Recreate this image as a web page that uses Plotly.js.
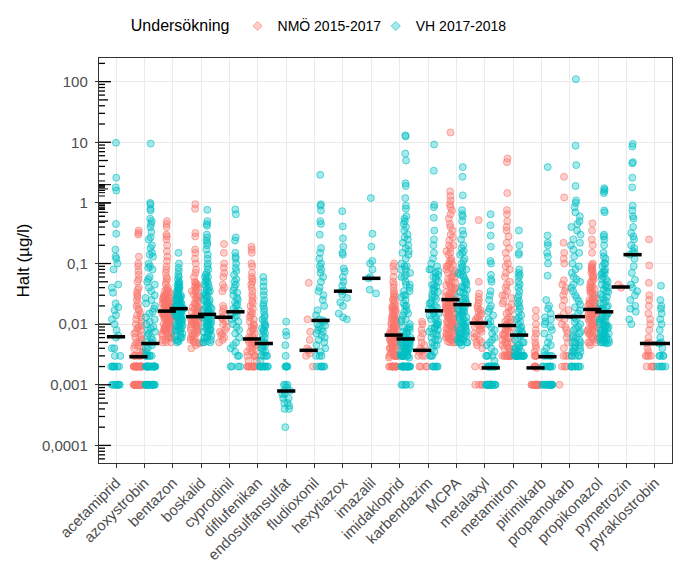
<!DOCTYPE html>
<html><head><meta charset="utf-8">
<script src="https://cdn.plot.ly/plotly-3.0.1.min.js"></script>
<style>html,body{margin:0;padding:0;background:#fff}#chart{width:682px;height:573px}</style>
</head><body><div id="chart"></div>
<script>
const categories = ['acetamiprid','azoxystrobin','bentazon','boskalid','cyprodinil','diflufenikan','endosulfansulfat','fludioxonil','hexytiazox','imazalil','imidakloprid','karbendazim','MCPA','metalaxyl','metamitron','pirimikarb','propamokarb','propikonazol','pymetrozin','pyraklostrobin'];
const groupNames = ['NMÖ 2015-2017','VH 2017-2018'];

// medians (null = no data)
const medianNMO = [null,0.0029,0.0164,0.0133,0.013,0.0057,null,0.0037,null,null,0.0066,0.0037,0.0254,0.0104,0.0095,0.0019,0.0133,0.0175,0.041,0.0048];
const medianVH  = [0.0062,0.0048,0.018,0.0145,0.016,0.0048,0.00079,0.0115,0.035,0.057,0.0057,0.0166,0.021,0.0019,0.0066,0.0029,0.0133,0.016,0.14,0.0048];

// NMÖ 2015-2017 values (µg/l)
const nmoAcetamiprid = [];
const nmoAzoxystrobin = [0.35,0.32,0.3,0.13,0.1,0.09,0.075,0.065,0.055,0.05,0.04,0.037,0.033,0.03,0.028,0.025,0.022,0.02,0.018,0.017,0.015,0.014,0.013,0.012,0.011,0.01,0.0095,0.009,0.0085,0.008,0.0075,0.007,0.0065,0.006,0.006,0.0055,0.005,0.005,0.0045,0.0045,0.004,0.004,0.0035,0.0035,0.003,0.003,0.003,0.003,0.003,0.003,0.002,0.002,0.002,0.002,0.002,0.002,0.002,0.002,0.002,0.002,0.002,0.002,0.002,0.002,0.002,0.002,0.002,0.002,0.002,0.002,0.002,0.002,0.001,0.001,0.001,0.001,0.001,0.001,0.001,0.001,0.001,0.001,0.001,0.001,0.001,0.001,0.001,0.001,0.001,0.001,0.001,0.001,0.001,0.001,0.001,0.001,0.001];
const nmoBentazon = [0.5,0.45,0.4,0.3,0.28,0.25,0.2,0.16,0.13,0.11,0.09,0.08,0.07,0.06,0.055,0.05,0.045,0.04,0.038,0.036,0.034,0.032,0.03,0.029,0.028,0.027,0.026,0.025,0.024,0.023,0.022,0.021,0.02,0.02,0.019,0.019,0.018,0.018,0.017,0.017,0.016,0.016,0.015,0.015,0.014,0.014,0.013,0.013,0.012,0.012,0.011,0.011,0.01,0.01,0.0095,0.009,0.009,0.0085,0.008,0.008,0.0075,0.007,0.007,0.0065,0.006,0.006,0.0055,0.005,0.005,0.005,0.025,0.022,0.019,0.017,0.015,0.013,0.011,0.0095,0.0085,0.035,0.031,0.027,0.024,0.021,0.019,0.018,0.017,0.016,0.015,0.014,0.013,0.012,0.011,0.01,0.009,0.008,0.007,0.006,0.0055,0.03,0.026,0.022,0.02,0.0165,0.016,0.0125,0.0105,0.0085,0.0065];
const nmoBoskalid = [0.95,0.8,0.32,0.28,0.17,0.15,0.12,0.1,0.08,0.07,0.06,0.05,0.048,0.045,0.042,0.04,0.037,0.034,0.031,0.028,0.026,0.024,0.022,0.02,0.019,0.018,0.017,0.016,0.015,0.014,0.013,0.013,0.012,0.012,0.011,0.011,0.01,0.01,0.0095,0.009,0.0085,0.008,0.0075,0.007,0.0065,0.006,0.0055,0.005,0.005,0.0045,0.004,0.045,0.035,0.03,0.025,0.021,0.018,0.016,0.014,0.0125,0.0115,0.0105,0.009,0.008,0.007,0.006,0.0052,0.04,0.028,0.019,0.013,0.01,0.0075,0.0055,0.0048];
const nmoCyprodinil = [0.21,0.15,0.1,0.085,0.07,0.06,0.045,0.04,0.035,0.02,0.018,0.016,0.014,0.013,0.012,0.011,0.01,0.009,0.008,0.0075,0.007,0.0065,0.006,0.0055,0.005];
const nmoDiflufenikan = [0.19,0.17,0.15,0.1,0.09,0.07,0.06,0.055,0.05,0.045,0.04,0.035,0.03,0.027,0.024,0.022,0.02,0.018,0.016,0.015,0.014,0.013,0.012,0.011,0.01,0.0095,0.009,0.0085,0.008,0.0075,0.007,0.0065,0.006,0.006,0.0055,0.0055,0.005,0.005,0.005,0.0045,0.0045,0.004,0.004,0.004,0.0035,0.0035,0.003,0.003,0.003,0.003,0.0025,0.0025,0.002,0.002,0.002,0.002,0.002,0.002,0.002,0.002,0.002,0.002];
const nmoEndosulfansulfat = [];
const nmoFludioxonil = [0.048,0.012,0.0075,0.0055,0.004,0.0037,0.0033,0.003,0.002];
const nmoHexytiazox = [];
const nmoImazalil = [];
const nmoImidakloprid = [0.1,0.09,0.075,0.06,0.05,0.045,0.04,0.035,0.032,0.03,0.028,0.026,0.024,0.022,0.02,0.019,0.018,0.017,0.016,0.015,0.014,0.013,0.012,0.012,0.011,0.011,0.01,0.01,0.0095,0.009,0.009,0.0085,0.008,0.008,0.0075,0.0075,0.007,0.007,0.0065,0.0065,0.006,0.006,0.0055,0.0055,0.005,0.005,0.005,0.0045,0.0045,0.004,0.004,0.004,0.0035,0.0035,0.003,0.003,0.003,0.003,0.003,0.003,0.002,0.002,0.002,0.002,0.002,0.002,0.002,0.002,0.002,0.002,0.002,0.002,0.002,0.002,0.025,0.02,0.017,0.014,0.012,0.0105,0.0092,0.0082,0.0072,0.0068,0.0064,0.0058,0.0052,0.0047,0.0042,0.0038,0.0033,0.003,0.003,0.0028,0.018,0.013,0.0088,0.007,0.0062,0.0048,0.0036,0.003];
const nmoKarbendazim = [0.011,0.01,0.008,0.007,0.006,0.005,0.0045,0.004,0.0037,0.0035,0.003,0.003,0.003,0.002,0.002,0.002,0.002];
const nmoMCPA = [14.5,1.55,1.3,1.1,0.95,0.85,0.75,0.65,0.55,0.45,0.4,0.35,0.3,0.27,0.24,0.2,0.18,0.16,0.14,0.12,0.11,0.1,0.095,0.09,0.085,0.08,0.075,0.07,0.065,0.06,0.055,0.05,0.048,0.045,0.042,0.04,0.038,0.036,0.034,0.032,0.03,0.029,0.028,0.027,0.026,0.025,0.024,0.023,0.022,0.021,0.02,0.02,0.019,0.018,0.017,0.016,0.015,0.014,0.013,0.012,0.012,0.011,0.011,0.01,0.01,0.0095,0.009,0.0085,0.008,0.0075,0.007,0.0065,0.006,0.006,0.0055,0.005,0.005,0.019,0.018,0.017,0.016,0.015,0.014,0.013,0.012,0.011,0.01,0.009,0.008,0.007,0.006,0.0055,0.005,0.2,0.15,0.11,0.09,0.07,0.06,0.05,0.044,0.038,0.033,0.029,0.026,0.024,0.021,0.018,0.015,0.013,0.011,0.0095,0.0085,0.0075,0.0065,0.0058,0.0052];
const nmoMetalaxyl = [0.52,0.05,0.032,0.028,0.025,0.022,0.02,0.018,0.017,0.016,0.015,0.014,0.013,0.012,0.012,0.011,0.011,0.01,0.01,0.0095,0.009,0.0085,0.008,0.0075,0.007,0.0065,0.006,0.0055,0.005,0.005,0.0045,0.004,0.002,0.002,0.001,0.001,0.001,0.001];
const nmoMetamitron = [5.4,4.7,1.45,0.76,0.65,0.5,0.4,0.35,0.28,0.22,0.18,0.15,0.12,0.1,0.09,0.08,0.07,0.06,0.05,0.045,0.04,0.035,0.03,0.027,0.024,0.021,0.019,0.017,0.015,0.013,0.012,0.011,0.01,0.0095,0.009,0.0085,0.008,0.0075,0.007,0.0065,0.006,0.006,0.0055,0.005,0.005,0.0045,0.0045,0.004,0.004,0.004,0.0035,0.0035,0.003,0.003,0.003,0.003,0.003,0.003,0.003,0.003,0.003,0.003,0.003,0.003,0.003,0.03,0.022,0.016,0.012,0.0105,0.0088,0.0078,0.0068,0.0058,0.0048];
const nmoPirimikarb = [0.017,0.013,0.01,0.008,0.007,0.006,0.005,0.0045,0.004,0.0035,0.003,0.003,0.003,0.003,0.002,0.002,0.002,0.002,0.0019,0.001,0.001,0.001,0.001,0.001,0.001,0.001,0.001,0.001,0.001,0.001,0.001,0.001,0.001,0.001,0.001,0.001];
const nmoPropamokarb = [2.7,1.23,0.22,0.15,0.12,0.1,0.053,0.045,0.04,0.035,0.03,0.025,0.02,0.017,0.015,0.013,0.012,0.01,0.009,0.008,0.007,0.006,0.005,0.004,0.003,0.003,0.003,0.002,0.002,0.002,0.001];
const nmoPropikonazol = [0.46,0.35,0.25,0.2,0.15,0.1,0.095,0.09,0.085,0.08,0.075,0.07,0.065,0.06,0.055,0.05,0.045,0.042,0.04,0.038,0.036,0.034,0.032,0.03,0.028,0.026,0.025,0.024,0.023,0.022,0.021,0.02,0.019,0.018,0.018,0.017,0.017,0.016,0.016,0.015,0.015,0.014,0.014,0.013,0.013,0.012,0.012,0.011,0.011,0.01,0.01,0.0095,0.009,0.009,0.0085,0.008,0.008,0.0075,0.007,0.007,0.0065,0.006,0.006,0.0055,0.005,0.005,0.0045,0.08,0.06,0.05,0.04,0.033,0.027,0.022,0.019,0.016,0.014,0.012,0.0105,0.009,0.0078,0.0068,0.0058,0.005,0.025,0.0185];
const nmoPymetrozin = [0.045,0.04];
const nmoPyraklostrobin = [0.25,0.093,0.048,0.03,0.025,0.02,0.015,0.012,0.01,0.008,0.006,0.005,0.0048,0.004,0.0035,0.003,0.003,0.003,0.003,0.002,0.002,0.002,0.002];

// VH 2017-2018 values (µg/l)
const vhAcetamiprid = [9.8,2.6,1.8,1.6,0.45,0.31,0.17,0.13,0.12,0.1,0.08,0.045,0.04,0.033,0.022,0.019,0.017,0.014,0.012,0.01,0.008,0.0065,0.006,0.004,0.004,0.003,0.003,0.002,0.002,0.002,0.002,0.002,0.002,0.002,0.001,0.001,0.001,0.001,0.001,0.001,0.001,0.001];
const vhAzoxystrobin = [9.5,1.0,0.95,0.8,0.75,0.55,0.5,0.45,0.4,0.33,0.27,0.25,0.2,0.18,0.15,0.14,0.13,0.1,0.09,0.085,0.08,0.06,0.055,0.05,0.045,0.04,0.035,0.03,0.027,0.025,0.022,0.02,0.018,0.016,0.015,0.013,0.012,0.011,0.01,0.009,0.0085,0.008,0.0075,0.007,0.0065,0.006,0.0055,0.005,0.005,0.0045,0.004,0.004,0.0035,0.003,0.003,0.003,0.003,0.003,0.003,0.002,0.002,0.002,0.002,0.002,0.002,0.002,0.002,0.002,0.002,0.002,0.002,0.002,0.002,0.002,0.002,0.002,0.002,0.002,0.002,0.001,0.001,0.001,0.001,0.001,0.001,0.001,0.001,0.001,0.001,0.001,0.001,0.001,0.001,0.001];
const vhBentazon = [0.15,0.1,0.085,0.075,0.065,0.06,0.055,0.05,0.048,0.045,0.042,0.04,0.038,0.036,0.034,0.032,0.03,0.029,0.028,0.027,0.026,0.025,0.024,0.023,0.022,0.021,0.02,0.02,0.019,0.019,0.018,0.018,0.018,0.017,0.017,0.016,0.016,0.015,0.015,0.014,0.014,0.013,0.013,0.012,0.012,0.011,0.011,0.01,0.01,0.0095,0.009,0.0085,0.008,0.0075,0.007,0.0065,0.006,0.0055,0.005,0.03,0.026,0.023,0.02,0.017,0.015,0.012,0.04,0.035,0.03,0.027,0.024,0.022,0.02,0.019,0.018,0.017,0.016,0.015,0.013,0.012,0.011,0.0095,0.0085,0.0075,0.0065,0.0055,0.045,0.028,0.021,0.018,0.0175,0.014,0.01,0.008,0.006,0.0052];
const vhBoskalid = [0.77,0.5,0.45,0.42,0.3,0.27,0.24,0.22,0.2,0.17,0.14,0.12,0.1,0.09,0.08,0.07,0.065,0.06,0.055,0.05,0.045,0.042,0.04,0.037,0.034,0.031,0.029,0.027,0.025,0.023,0.021,0.02,0.019,0.018,0.017,0.016,0.015,0.014,0.014,0.013,0.012,0.012,0.011,0.01,0.01,0.0095,0.009,0.0085,0.008,0.0075,0.007,0.0065,0.006,0.0055,0.005,0.005,0.06,0.045,0.035,0.03,0.025,0.022,0.019,0.017,0.015,0.014,0.013,0.012,0.011,0.0095,0.0085,0.0075,0.0065,0.0058,0.0052,0.005,0.05,0.033,0.024,0.016,0.0135,0.0105,0.008,0.006];
const vhCyprodinil = [0.78,0.65,0.27,0.24,0.15,0.13,0.12,0.1,0.085,0.075,0.065,0.055,0.05,0.045,0.04,0.036,0.033,0.03,0.027,0.025,0.023,0.021,0.02,0.018,0.017,0.016,0.015,0.014,0.013,0.012,0.011,0.01,0.009,0.008,0.007,0.006,0.005,0.0045,0.004,0.0035,0.003,0.003,0.002,0.002,0.002,0.002];
const vhDiflufenikan = [0.06,0.05,0.042,0.035,0.03,0.025,0.022,0.02,0.018,0.016,0.014,0.013,0.012,0.011,0.01,0.0095,0.009,0.0085,0.008,0.0075,0.007,0.0065,0.006,0.0055,0.005,0.005,0.0045,0.0045,0.004,0.004,0.0035,0.0035,0.003,0.003,0.003,0.003,0.0025,0.002,0.002,0.002,0.002,0.002,0.002,0.002,0.002,0.002,0.002];
const vhEndosulfansulfat = [0.011,0.0075,0.0065,0.0045,0.003,0.002,0.002,0.002,0.002,0.002,0.001,0.001,0.001,0.0009,0.0008,0.0008,0.0007,0.0007,0.0006,0.0006,0.0005,0.0005,0.00045,0.0004,0.0004,0.0002];
const vhFludioxonil = [2.9,0.95,0.9,0.75,0.5,0.45,0.3,0.18,0.15,0.12,0.1,0.09,0.08,0.07,0.06,0.05,0.04,0.035,0.03,0.025,0.02,0.017,0.014,0.012,0.0115,0.011,0.01,0.0095,0.009,0.0085,0.008,0.0075,0.007,0.0065,0.006,0.0055,0.005,0.0045,0.004,0.0035,0.003,0.003,0.003,0.002,0.002,0.002,0.002,0.002,0.002];
const vhHexytiazox = [0.73,0.41,0.26,0.19,0.15,0.14,0.083,0.074,0.06,0.05,0.043,0.036,0.035,0.031,0.027,0.023,0.02,0.015,0.013,0.012];
const vhImazalil = [1.2,0.31,0.19,0.11,0.1,0.08,0.06,0.057,0.037,0.032];
const vhImidakloprid = [13,12.5,6.5,5,2.1,1.9,1.2,0.9,0.8,0.6,0.55,0.5,0.45,0.4,0.35,0.3,0.27,0.25,0.22,0.2,0.18,0.16,0.14,0.12,0.1,0.09,0.08,0.07,0.06,0.05,0.04,0.035,0.03,0.025,0.02,0.017,0.014,0.012,0.01,0.009,0.008,0.007,0.006,0.0057,0.0055,0.005,0.005,0.0045,0.0045,0.004,0.004,0.004,0.0035,0.0035,0.003,0.003,0.003,0.003,0.003,0.003,0.002,0.002,0.002,0.002,0.002,0.002,0.002,0.002,0.002,0.002,0.002,0.002,0.002,0.002,0.002,0.002,0.002,0.002,0.001,0.001,0.001,0.001,0.001,0.15,0.09,0.065,0.045,0.03,0.022,0.016,0.011,0.0085,0.0075,0.0065,0.006,0.0055,0.005,0.0045,0.004,0.0035,0.003,0.003,0.002,0.08,0.06,0.045,0.035,0.028,0.02,0.015,0.012,0.009,0.0075,0.005,0.0048,0.0045,0.004,0.0038,0.0035,0.0032,0.003,0.003,0.0028];
const vhKarbendazim = [9.2,3.4,0.93,0.85,0.57,0.35,0.25,0.2,0.15,0.12,0.1,0.09,0.08,0.075,0.07,0.065,0.06,0.055,0.05,0.045,0.042,0.04,0.037,0.034,0.031,0.028,0.026,0.024,0.022,0.02,0.019,0.018,0.017,0.016,0.015,0.014,0.013,0.012,0.011,0.01,0.0095,0.009,0.0085,0.008,0.0075,0.007,0.0065,0.006,0.0055,0.005,0.0045,0.004,0.0035,0.003,0.003,0.003,0.002,0.002,0.002,0.002,0.002,0.002,0.08,0.06,0.045,0.035,0.028,0.022,0.018,0.015,0.012,0.01,0.0085,0.007,0.0055,0.0045];
const vhMCPA = [3.9,2.7,1.33,0.76,0.65,0.6,0.5,0.35,0.3,0.25,0.2,0.18,0.16,0.14,0.12,0.1,0.09,0.08,0.075,0.07,0.065,0.06,0.055,0.05,0.045,0.042,0.04,0.037,0.034,0.031,0.028,0.026,0.024,0.022,0.021,0.02,0.019,0.018,0.017,0.016,0.015,0.014,0.013,0.012,0.011,0.01,0.0095,0.009,0.0085,0.008,0.0075,0.007,0.0065,0.006,0.0055,0.005,0.005,0.005,0.016,0.013,0.011,0.009,0.007,0.006,0.0055,0.005,0.0045,0.0065,0.15,0.11,0.085,0.065,0.05,0.04,0.033,0.027,0.023,0.019,0.016,0.014,0.012,0.0105,0.009,0.0078,0.0068,0.0058,0.005];
const vhMetalaxyl = [0.65,0.43,0.29,0.19,0.11,0.1,0.065,0.055,0.05,0.035,0.03,0.025,0.02,0.018,0.016,0.014,0.012,0.011,0.01,0.009,0.008,0.007,0.006,0.0055,0.005,0.0045,0.004,0.0035,0.003,0.003,0.003,0.003,0.0025,0.002,0.002,0.002,0.002,0.002,0.002,0.002,0.002,0.002,0.002,0.002,0.002,0.001,0.001,0.001,0.001,0.001,0.001,0.001,0.001,0.001,0.001,0.001,0.001,0.001,0.001,0.001,0.001,0.001,0.001,0.001,0.001,0.001,0.001,0.001,0.001,0.001,0.001];
const vhMetamitron = [0.35,0.2,0.15,0.14,0.08,0.07,0.065,0.06,0.05,0.045,0.04,0.035,0.03,0.027,0.024,0.022,0.02,0.018,0.016,0.014,0.013,0.012,0.011,0.01,0.009,0.0085,0.008,0.0075,0.007,0.0068,0.0065,0.006,0.0055,0.005,0.005,0.0045,0.0045,0.004,0.004,0.004,0.0035,0.0035,0.0035,0.003,0.003,0.003,0.003,0.003,0.003,0.003,0.003,0.003,0.003,0.003,0.003,0.003,0.003,0.003,0.003];
const vhPirimikarb = [3.9,0.29,0.22,0.2,0.15,0.13,0.1,0.063,0.025,0.02,0.018,0.015,0.013,0.012,0.011,0.01,0.009,0.008,0.007,0.006,0.005,0.0045,0.004,0.0035,0.003,0.003,0.003,0.003,0.002,0.002,0.002,0.002,0.002,0.002,0.002,0.002,0.001,0.001,0.001,0.001,0.001,0.001,0.001,0.001,0.001,0.001,0.001,0.001,0.001,0.001];
const vhPropamokarb = [110,8.8,4.2,1.9,1.1,1.0,0.85,0.7,0.6,0.5,0.45,0.4,0.35,0.3,0.25,0.22,0.2,0.17,0.15,0.13,0.1,0.09,0.08,0.07,0.06,0.055,0.05,0.045,0.04,0.035,0.03,0.027,0.024,0.021,0.019,0.017,0.015,0.013,0.012,0.011,0.01,0.009,0.0085,0.008,0.0075,0.007,0.0065,0.006,0.0055,0.005,0.005,0.0045,0.0045,0.004,0.004,0.0035,0.0035,0.003,0.003,0.003,0.003,0.003,0.002,0.002,0.002,0.002,0.002,0.002,0.002,0.002,0.002,0.006,0.005,0.004,0.0035];
const vhPropikonazol = [1.75,1.65,1.55,1.45,0.75,0.7,0.3,0.28,0.25,0.2,0.15,0.13,0.12,0.1,0.09,0.08,0.075,0.07,0.065,0.06,0.055,0.05,0.045,0.042,0.04,0.037,0.034,0.031,0.028,0.026,0.024,0.022,0.02,0.019,0.018,0.017,0.016,0.015,0.014,0.013,0.012,0.012,0.011,0.011,0.01,0.01,0.0095,0.009,0.009,0.0085,0.008,0.008,0.0075,0.007,0.007,0.0065,0.0065,0.006,0.006,0.0055,0.0055,0.005,0.005,0.005,0.005,0.1,0.07,0.055,0.045,0.035,0.028,0.022,0.018,0.015,0.013,0.011,0.0095,0.0082,0.0072,0.0062,0.0055,0.005,0.0048];
const vhPymetrozin = [9.4,8.5,4.7,4.5,2.6,1.8,0.9,0.75,0.6,0.55,0.4,0.32,0.28,0.25,0.2,0.18,0.16,0.15,0.14,0.12,0.09,0.07,0.054,0.045,0.04,0.035,0.03,0.025,0.02,0.018,0.016,0.012,0.01];
const vhPyraklostrobin = [0.043,0.025,0.02,0.018,0.015,0.012,0.01,0.008,0.006,0.005,0.0048,0.004,0.003,0.003,0.003,0.003,0.002,0.002,0.002,0.002,0.002];

const nmoSeries = [nmoAcetamiprid,nmoAzoxystrobin,nmoBentazon,nmoBoskalid,nmoCyprodinil,nmoDiflufenikan,nmoEndosulfansulfat,nmoFludioxonil,nmoHexytiazox,nmoImazalil,nmoImidakloprid,nmoKarbendazim,nmoMCPA,nmoMetalaxyl,nmoMetamitron,nmoPirimikarb,nmoPropamokarb,nmoPropikonazol,nmoPymetrozin,nmoPyraklostrobin];
const vhSeries = [vhAcetamiprid,vhAzoxystrobin,vhBentazon,vhBoskalid,vhCyprodinil,vhDiflufenikan,vhEndosulfansulfat,vhFludioxonil,vhHexytiazox,vhImazalil,vhImidakloprid,vhKarbendazim,vhMCPA,vhMetalaxyl,vhMetamitron,vhPirimikarb,vhPropamokarb,vhPropikonazol,vhPymetrozin,vhPyraklostrobin];

const colorNMO = {fill:'rgba(248,118,109,0.35)', edge:'rgba(248,118,109,0.6)'};
const colorVH  = {fill:'rgba(0,191,196,0.35)', edge:'rgba(0,191,196,0.6)'};
const DODGE = 0.21;
const W = 682, H = 573, M = {l: 99, r: 10, t: 50, b: 110};
const X_RANGE = [-0.6, 19.6];
const Y_RANGE = [-4.29, 2.39];
const PLOT_W = W - M.l - M.r;
const PX_PER_UNIT = PLOT_W / (X_RANGE[1] - X_RANGE[0]);

function offsetFor(i, k) {
  const both = nmoSeries[i].length > 0 && vhSeries[i].length > 0;
  if (!both) return 0;
  return k === 0 ? -DODGE : DODGE;
}

function pointsTrace(series, k, col) {
  const x = [], y = [];
  series.forEach((vals, i) => {
    const off = offsetFor(i, k);
    vals.forEach(v => { x.push(i + off); y.push(v); });
  });
  return {
    type: 'box', x: x, y: y, boxpoints: 'all', jitter: 0.82, pointpos: 0, width: 0.42,
    fillcolor: 'rgba(0,0,0,0)', line: {width: 0, color: 'rgba(0,0,0,0)'},
    marker: {size: 7, color: col.fill, line: {color: col.edge, width: 1}},
    hoverinfo: 'skip', showlegend: false
  };
}

function medianTrace(meds, k) {
  const x = [], y = [];
  meds.forEach((m, i) => { if (m !== null) { x.push(i + offsetFor(i, k)); y.push(m); } });
  return {
    type: 'scatter', mode: 'markers', x: x, y: y,
    marker: {symbol: 'line-ew', size: 13, line: {width: 3.5, color: '#000'}},
    hoverinfo: 'skip', showlegend: false
  };
}

function legendTrace(name, col, legendId) {
  return {type: 'scatter', mode: 'markers', x: [null], y: [null], name: name, legend: legendId,
    marker: {symbol: 'diamond', size: 7, color: col.fill, line: {color: col.edge, width: 1}}};
}

// log tick marks inside the left panel edge (like annotation_logticks)
function logTickList() {
  const out = [];
  for (let e = -5; e <= 2; e++) {
    for (let d = 1; d <= 9; d++) {
      const v = d * Math.pow(10, e);
      const lv = Math.log10(v);
      if (lv < Y_RANGE[0] || lv > Y_RANGE[1]) continue;
      out.push({v: v, lv: lv, len: d === 1 ? 12 : (d === 5 ? 9 : 6)});
    }
  }
  return out;
}
function logTicksTrace(len) {
  const x = [], y = [];
  logTickList().filter(t => t.len === len).forEach(t => {
    x.push(X_RANGE[0] + (len / 2) / PX_PER_UNIT); y.push(t.v);
  });
  return {type: 'scatter', mode: 'markers', x: x, y: y,
    marker: {symbol: 'line-ew', size: len / 1.4, color: '#000', line: {width: 1.3, color: '#000'}},
    hoverinfo: 'skip', showlegend: false};
}
// same ticks as layout shapes (shape y on a log axis is given in log10 units)
const logTickShapes = logTickList().map(t => ({
  type: 'line', xref: 'paper', yref: 'y', x0: 0, x1: t.len / PLOT_W, y0: t.lv, y1: t.lv,
  line: {color: '#000', width: 1}, layer: 'above'
}));

const data = [
  pointsTrace(nmoSeries, 0, colorNMO),
  pointsTrace(vhSeries, 1, colorVH),
  medianTrace(medianNMO, 0),
  medianTrace(medianVH, 1),
  logTicksTrace(12), logTicksTrace(9), logTicksTrace(6),
  legendTrace(groupNames[0], colorNMO, 'legend'),
  legendTrace(groupNames[1], colorVH, 'legend2')
];

const layout = {
  width: W, height: H,
  margin: M,
  separators: ', ',
  paper_bgcolor: '#fff', plot_bgcolor: '#fff',
  font: {family: 'Liberation Sans, Arial, sans-serif', color: '#4D4D4D', size: 14},
  showlegend: true,
  shapes: logTickShapes,
  legend: {
    orientation: 'h', x: 0.052, xanchor: 'left', y: 1.078, yanchor: 'middle',
    title: {text: 'Undersökning', font: {size: 16, color: '#000'}, side: 'left'},
    font: {size: 14, color: '#000'}, bgcolor: 'rgba(0,0,0,0)', itemwidth: 30
  },
  legend2: {
    orientation: 'h', x: 0.483, xanchor: 'left', y: 1.078, yanchor: 'middle',
    font: {size: 14, color: '#000'}, bgcolor: 'rgba(0,0,0,0)', itemwidth: 30
  },
  xaxis: {
    range: X_RANGE, tickmode: 'array', tickvals: categories.map((c, i) => i), ticktext: categories,
    tickangle: -45, ticks: 'outside', ticklen: 4, tickcolor: '#333', tickwidth: 1,
    showgrid: true, gridcolor: '#EBEBEB', gridwidth: 1, zeroline: false,
    showline: true, mirror: true, linecolor: '#333', linewidth: 1.2,
    tickfont: {size: 15, color: '#4D4D4D'}
  },
  yaxis: {
    type: 'log', range: Y_RANGE, tickmode: 'linear', tick0: 0, dtick: 1, exponentformat: 'none',
    ticks: 'outside', ticklen: 3, tickcolor: '#333', tickwidth: 1, ticklabelstandoff: 4,
    showgrid: true, gridcolor: '#EBEBEB', gridwidth: 1, zeroline: false,
    showline: true, mirror: true, linecolor: '#333', linewidth: 1.2,
    tickfont: {size: 15, color: '#4D4D4D'},
    title: {text: 'Halt (µg/l)', font: {size: 17, color: '#000'}, standoff: 8}
  }
};

Plotly.newPlot('chart', data, layout, {displayModeBar: false, staticPlot: true});
</script>
</body></html>
